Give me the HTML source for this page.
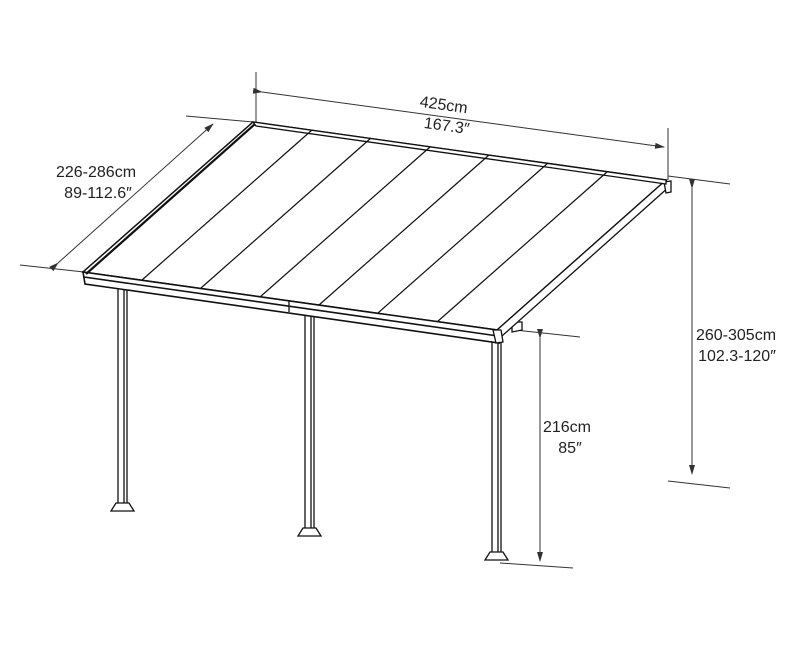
<!DOCTYPE html>
<html><head><meta charset="utf-8"><style>
html,body{margin:0;padding:0;background:#fff;}
svg{display:block;}
text{font-family:"Liberation Sans",sans-serif;font-size:16px;fill:#222;text-anchor:middle;}
</style></head><body>
<svg width="800" height="660" viewBox="0 0 800 660" xmlns="http://www.w3.org/2000/svg">
<defs>
<marker id="a" markerWidth="10" markerHeight="6" refX="9" refY="3" orient="auto" markerUnits="userSpaceOnUse">
<path d="M0,0 L10,3 L0,6 Z" fill="#333"/></marker>
</defs>
<g stroke="#333" stroke-width="1" fill="none">
<line x1="256" y1="72" x2="256" y2="122"/>
<line x1="668" y1="128" x2="668" y2="180"/>
<line x1="186" y1="116" x2="253" y2="122"/>
<line x1="20" y1="265" x2="84" y2="272"/>
<line x1="668" y1="176" x2="730" y2="184"/>
<line x1="668" y1="481" x2="730" y2="488"/>
<line x1="515" y1="330" x2="580" y2="337"/>
<line x1="500" y1="563" x2="573" y2="568"/>
<line x1="262" y1="92" x2="664" y2="147" marker-start="url(#a)" marker-end="url(#a)"/>
<line x1="58" y1="263" x2="213" y2="124" marker-start="url(#a)" marker-end="url(#a)"/>
<line x1="692" y1="188" x2="692" y2="474" marker-start="url(#a)" marker-end="url(#a)"/>
<line x1="540" y1="338" x2="540" y2="561" marker-start="url(#a)" marker-end="url(#a)"/>
</g>
<g stroke="#111" fill="#fff" stroke-width="1.3">
<rect x="118" y="282" width="9" height="222"/>
<line x1="124" y1="284" x2="124" y2="503"/>
<path d="M111,511 L116,503 L129,503 L134,511 Z"/>
<rect x="305" y="309" width="9" height="220"/>
<line x1="311" y1="311" x2="311" y2="528"/>
<path d="M298,536 L303,528 L316,528 L321,536 Z"/>
<rect x="492" y="337" width="9" height="216"/>
<line x1="498" y1="339" x2="498" y2="552"/>
<path d="M485,560 L490,552 L503,552 L508,560 Z"/>
<path d="M512,322 L522,322 L522,330 L512,332 Z"/>
<path d="M253,122 L666,180 L497,330 L83,272 Z" stroke-width="1.5"/>
<path d="M666,180 L670,186 L502,336 L497,330 Z"/>
<path d="M664,182 L671,181 L671,192 L666,193 Z"/>
<path d="M253,122 L666,180 L666,184 L256,126 Z"/>
<path d="M83,272 L497,330 L499,343 L85,284 Z" stroke-width="1.6"/>
<line x1="84" y1="277" x2="498" y2="336" stroke-width="1.6"/>
<line x1="289" y1="300" x2="289" y2="312"/>
<path d="M493,330 L501,330 L503,342 L496,343 Z"/>
</g>
<g stroke="#111" stroke-width="1.2">
<line x1="312" y1="130" x2="142" y2="280"/>
<line x1="371" y1="138" x2="201" y2="288"/>
<line x1="430" y1="147" x2="260" y2="297"/>
<line x1="489" y1="155" x2="319" y2="305"/>
<line x1="548" y1="163" x2="378" y2="313"/>
<line x1="607" y1="172" x2="437" y2="322"/>
<line x1="255" y1="124" x2="86" y2="274" stroke-width="2.2"/>
</g>
<text x="443" y="110" transform="rotate(8 443 110)">425cm</text>
<text x="446" y="131" transform="rotate(8 446 131)">167.3″</text>
<text x="96" y="177">226-286cm</text>
<text x="98" y="198">89-112.6″</text>
<text x="736" y="340">260-305cm</text>
<text x="737" y="361">102.3-120″</text>
<text x="567" y="432">216cm</text>
<text x="570" y="453">85″</text>
</svg>
</body></html>
